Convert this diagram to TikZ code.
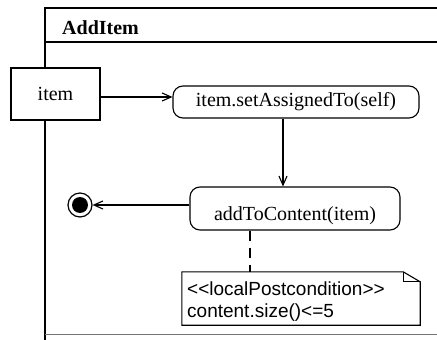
\documentclass[tikz,border=0pt]{standalone}
\usepackage{fontspec}
\setmainfont{Liberation Serif}
\newfontfamily\notefont{Liberation Sans}
\usetikzlibrary{arrows.meta,calc}

\begin{document}
\begin{tikzpicture}[x=1pt,y=-1pt,
  line/.style={line width=1.1pt},
  arr/.style={line width=1.1pt,-{Straight Barb[length=9pt,width=8pt,line width=1.1pt]}},
  action/.style={draw,line width=1.1pt,rounded corners=10pt,inner sep=0pt},
  objbox/.style={draw,fill=white,line width=1.1pt,inner sep=0pt},
  txt/.style={font=\fontsize{20}{24}\selectfont,inner sep=0pt},
  notetxt/.style={font=\notefont\fontsize{19}{22}\selectfont,inner sep=0pt},
]
\useasboundingbox (0,0) rectangle (437,340);

% activity frame with its header compartment
\draw[line] (45,340) -- (45,8) -- (437,8);
\draw[line] (45,42) -- (437,42);
\draw[line width=0.6pt,black!55] (45,334) -- (437,334);
\node[txt,font=\bfseries\fontsize{20}{24}\selectfont,anchor=west] (title) at (62,28) {AddItem};

% input object node
\node[objbox,txt,minimum width=89pt,minimum height=52pt] (item) at (55.5,94) {item};

% actions
\node[action,txt,minimum width=246pt,minimum height=32pt] (act1) at (296,102) {item.setAssignedTo(self)};
\node[action,minimum width=210pt,minimum height=43pt] (act2) at (295,208.5) {};
\node[txt] (act2txt) at ($(act2)+(0,7)$) {addToContent(item)};

% final node
\node[circle,draw,line width=1.2pt,minimum size=24pt,inner sep=0pt] (final) at (80,205) {};
\node[circle,fill,minimum size=16pt,inner sep=0pt] (finaldot) at (final) {};

% note with folded corner
\node[minimum width=238pt,minimum height=53pt,inner sep=0pt] (note) at (301,298.5) {};
\draw[line] (note.north west) -- ([xshift=-17pt]note.north east)
  -- ([yshift=-10pt]note.north east) -- (note.south east)
  -- (note.south west) -- cycle;
\draw[line] ([xshift=-17pt]note.north east) -- ([xshift=-17pt,yshift=-10pt]note.north east)
  -- ([yshift=-10pt]note.north east);
\node[notetxt,anchor=base west] (note1) at (187,295) {<<localPostcondition>>};
\node[notetxt,anchor=base west] (note2) at (187,317) {content.size()<=5};

% flows
\draw[arr] ([yshift=-3pt]item.east) -- ([yshift=-3pt]item.east -| act1.west);
\draw[arr] ([xshift=-13pt]act1.south) -- ([xshift=-13pt]act1.south |- act2.north);
\draw[arr] (act2.west |- final) -- (final.east);
\draw[line,dash pattern=on 10pt off 7pt] ([xshift=-45pt]act2.south) -- ([xshift=-45pt]act2.south |- note.north);
\end{tikzpicture}
\end{document}
